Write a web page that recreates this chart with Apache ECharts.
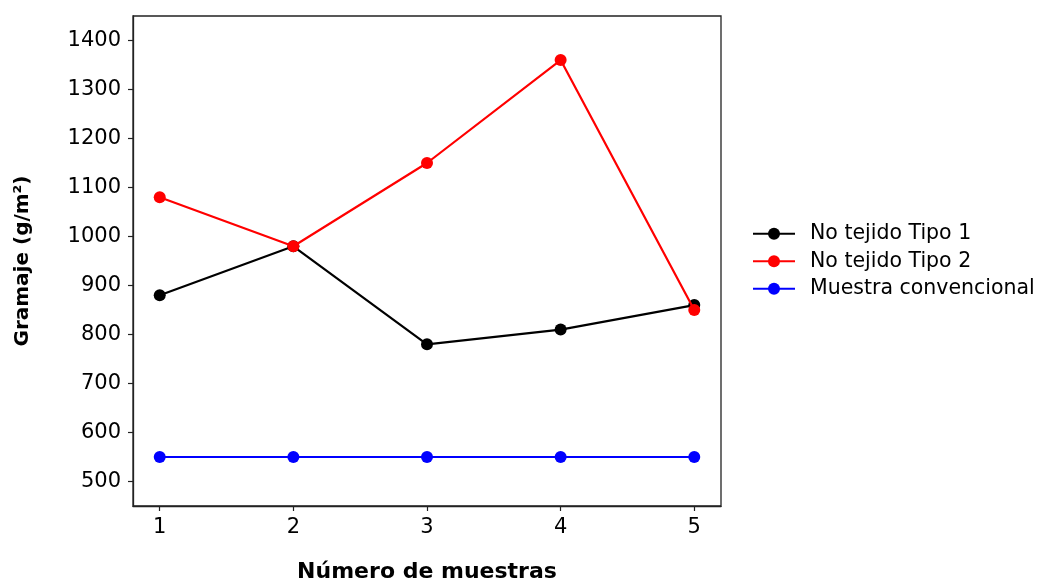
<!DOCTYPE html>
<html>
<head>
<meta charset="utf-8">
<script src="https://cdn.jsdelivr.net/npm/echarts@6/dist/echarts.min.js"></script>
<style>
html,body{margin:0;padding:0;background:#fff;}
#chart{width:1038px;height:580px;}
</style>
</head>
<body>
<div id="chart"></div>
<script>
const muestras = [1, 2, 3, 4, 5];
const tipo1 = [880, 980, 780, 810, 860];
const tipo2 = [1080, 980, 1150, 1360, 850];
const convencional = [550, 550, 550, 550, 550];
const yTicks = [500, 600, 700, 800, 900, 1000, 1100, 1200, 1300, 1400];
const seriesNames = ['No tejido Tipo 1', 'No tejido Tipo 2', 'Muestra convencional'];
const seriesColors = ['#000000', '#ff0000', '#0000ff'];

const pairs = arr => muestras.map((x, i) => [x, arr[i]]);
const font = 'DejaVu Sans';

const chart = echarts.init(document.getElementById('chart'), null, {renderer: 'canvas'});
chart.setOption({
  animation: false,
  backgroundColor: '#fff',
  grid: {left: 133, top: 16, width: 588, height: 490, show: true, borderColor: '#222', borderWidth: 1.3, backgroundColor: 'transparent', containLabel: false, outerBoundsMode: 'none'},
  xAxis: {
    type: 'value', min: 0.8, max: 5.2,
    name: 'Número de muestras', nameLocation: 'middle', nameGap: 55,
    nameTextStyle: {fontFamily: font, fontSize: 22, fontWeight: 'bold', color: '#000'},
    axisLine: {show: true, lineStyle: {color: '#222', width: 1.3}},
    axisTick: {show: true, inside: false, length: 5, lineStyle: {color: '#222', width: 1.2}, customValues: muestras},
    axisLabel: {fontFamily: font, fontSize: 21, color: '#000', margin: 11, customValues: muestras, formatter: v => String(v)},
    splitLine: {show: false}
  },
  yAxis: {
    type: 'value', min: 450, max: 1450,
    name: 'Gramaje (g/m²)', nameLocation: 'middle', nameGap: 100, nameRotate: 90,
    nameTextStyle: {fontFamily: font, fontSize: 20, fontWeight: 'bold', color: '#000'},
    axisLine: {show: true, lineStyle: {color: '#222', width: 1.3}},
    axisTick: {show: true, inside: false, length: 5, lineStyle: {color: '#222', width: 1.2}, customValues: yTicks},
    axisLabel: {fontFamily: font, fontSize: 21, color: '#000', margin: 12, customValues: yTicks, formatter: v => String(v)},
    splitLine: {show: false}
  },
  legend: {
    orient: 'vertical', left: 752, top: 223, padding: 0,
    itemWidth: 42, itemHeight: 15, itemGap: 6,
    textStyle: {fontFamily: font, fontSize: 20.5, color: '#000', lineHeight: 21.5, padding: [0, 0, 0, 10]},
    data: seriesNames
  },
  series: [tipo1, tipo2, convencional].map((arr, i) => ({
    name: seriesNames[i], type: 'line', data: pairs(arr),
    symbol: 'circle', symbolSize: 12,
    lineStyle: {color: seriesColors[i], width: 2.2},
    itemStyle: {color: seriesColors[i]},
    z: 2 + i
  }))
});
</script>
</body>
</html>
